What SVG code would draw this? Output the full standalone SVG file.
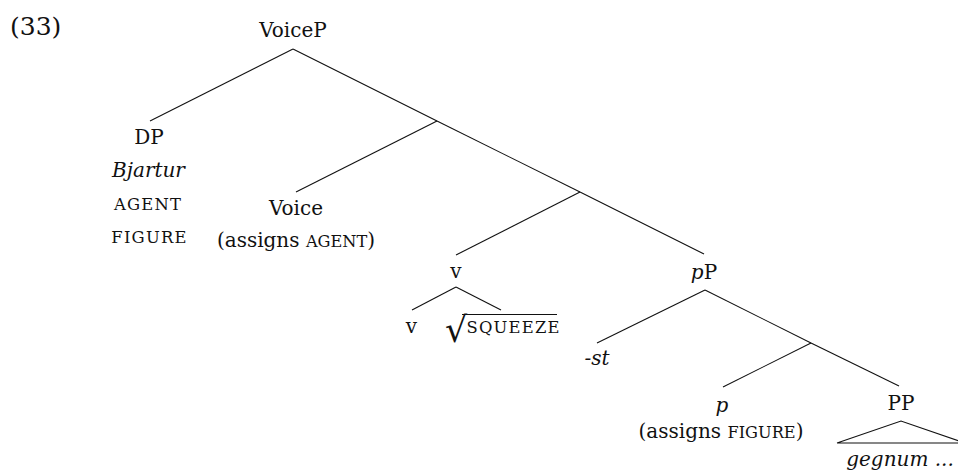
<svg xmlns="http://www.w3.org/2000/svg" width="958" height="472" viewBox="0 0 958 472">
<style>
text{font-family:"DejaVu Serif","Liberation Serif",serif;font-size:20px;fill:#111;text-anchor:middle}
.it{font-style:italic}
.sc{font-size:16.2px}
.scs{font-size:16.4px;letter-spacing:1.2px}
.e line,.e polyline{stroke:#111;stroke-width:1.1;fill:none}
</style>
<rect width="958" height="472" fill="#fff"/>
<text x="10" y="35" style="text-anchor:start;font-size:25px">(33)</text>
<g class="e" id="connectors">
<line x1="293" y1="49" x2="150" y2="121"/>
<line x1="293" y1="49" x2="437" y2="121"/>
<line x1="437" y1="121" x2="296" y2="192"/>
<line x1="437" y1="121" x2="580" y2="192"/>
<line x1="580" y1="192" x2="456" y2="255"/>
<line x1="580" y1="192" x2="704" y2="254"/>
<line x1="456" y1="287" x2="412" y2="310"/>
<line x1="456" y1="287" x2="501" y2="310"/>
<line x1="705" y1="290" x2="597" y2="343"/>
<line x1="705" y1="290" x2="811" y2="343"/>
<line x1="811" y1="343" x2="723" y2="387"/>
<line x1="811" y1="343" x2="899" y2="386"/>
<polyline points="837,443 901,421 965,443 837,443"/>
</g>
<g id="VoiceP"><text x="293" y="37">VoiceP</text></g>
<g id="DP"><text x="149" y="144">DP</text>
<text class="it" x="148.5" y="177">Bjartur</text>
<text class="scs" x="148" y="210">AGENT</text>
<text class="scs" x="149.5" y="243">FIGURE</text></g>
<g id="Voice"><text x="296" y="215">Voice</text>
<text x="296" y="247">(assigns <tspan class="sc">AGENT</tspan>)</text></g>
<g id="v-bar"><text x="456" y="278">v</text></g>
<g id="v"><text x="411.5" y="333">v</text></g>
<g id="root"><text x="445" y="342" style="text-anchor:start;font-size:35px">√</text>
<line x1="462" y1="314.5" x2="557" y2="314.5" stroke="#111" stroke-width="1.1"/>
<text class="scs" x="466.5" y="333" style="text-anchor:start">SQUEEZE</text></g>
<g id="pP"><text x="704" y="279"><tspan class="it">p</tspan>P</text></g>
<g id="st"><text class="it" x="597" y="365">-st</text></g>
<g id="p"><text class="it" x="722" y="412">p</text>
<text x="721" y="438">(assigns <tspan class="sc">FIGURE</tspan>)</text></g>
<g id="PP"><text x="901" y="410">PP</text>
<text class="it" x="900" y="466">gegnum ...</text></g>
</svg>
